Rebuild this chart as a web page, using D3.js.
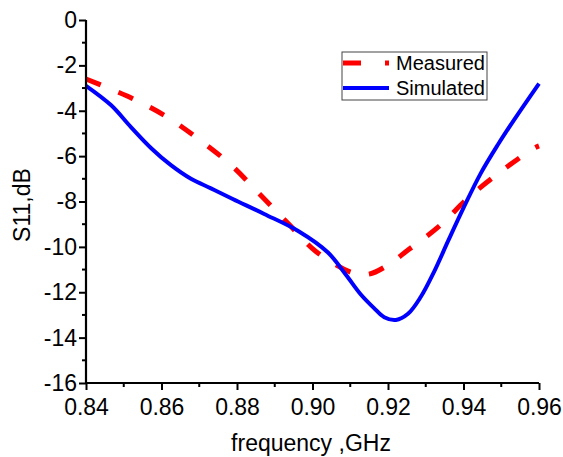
<!DOCTYPE html>
<html>
<head>
<meta charset="utf-8">
<script src="https://cdn.jsdelivr.net/npm/d3@7"></script>
<style>
  body { margin: 0; background: #fff; }
  text { font-family: "Liberation Sans", Arial, sans-serif; fill: #000; }
</style>
</head>
<body>
<svg id="chart" width="563" height="457"></svg>
<script>
  // frequency (GHz) / S11 (dB)
  var simFreq = [0.840, 0.8466, 0.8519, 0.8572, 0.8625, 0.8678, 0.8731, 0.879, 0.8872, 0.8962,
    0.9041, 0.9089, 0.9128, 0.9163, 0.919, 0.9221, 0.9253, 0.9287, 0.9322, 0.9359, 0.9401,
    0.9446, 0.9491, 0.9534, 0.960];
  var simS11 = [-2.9, -3.75, -4.72, -5.64, -6.4, -7.0, -7.42, -7.9, -8.55, -9.3,
    -10.25, -11.24, -12.1, -12.7, -13.1, -13.22, -12.95, -12.2, -11.1, -9.75, -8.25,
    -6.75, -5.5, -4.4, -2.8];

  var measFreq = [0.840, 0.8524, 0.8617, 0.8699, 0.8784, 0.8858, 0.8935, 0.9009, 0.9107, 0.9150,
    0.9200, 0.9253, 0.9335, 0.9415, 0.9505, 0.9587, 0.960];
  var measS11 = [-2.6, -3.47, -4.3, -5.26, -6.39, -7.64, -8.96, -10.2, -11.15, -11.2,
    -10.8, -10.14, -9.1, -7.8, -6.6, -5.65, -5.55];

  var xTicks = [0.84, 0.86, 0.88, 0.90, 0.92, 0.94, 0.96];
  var yTicks = [0, -2, -4, -6, -8, -10, -12, -14, -16];

  (function () {
    var svg = d3.select('#chart'),
      pl = 86,
      pr = 539,
      pt = 20,
      pb = 383,
      fs = 23;

    var x = d3.scaleLinear().domain([0.84, 0.96]).range([pl, pr]),
      y = d3.scaleLinear().domain([-16, 0]).range([pb, pt]);

    function series(fq, vs) {
      return fq.map(function (f, i) { return [f, vs[i]]; });
    }

    var line = d3.line()
      .x(function (d) { return x(d[0]); })
      .y(function (d) { return y(d[1]); })
      .curve(d3.curveCatmullRom.alpha(0.5));

    // curves
    svg.append('path')
      .attr('d', line(series(measFreq, measS11)))
      .attr('fill', 'none')
      .attr('stroke', '#ff0000')
      .attr('stroke-width', 5)
      .attr('stroke-dasharray', '16,19');

    svg.append('path')
      .attr('d', line(series(simFreq, simS11)))
      .attr('fill', 'none')
      .attr('stroke', '#0000ff')
      .attr('stroke-width', 4);

    // minor ticks
    var xMinor = d3.range(0.85, 0.96, 0.02),
      yMinor = d3.range(-15, 0, 2);

    var xAxis = d3.axisBottom(x).tickValues(xTicks).tickSize(7).tickPadding(9)
      .tickFormat(d3.format('.2f'));
    var yAxis = d3.axisLeft(y).tickValues(yTicks).tickSize(7).tickPadding(2)
      .tickFormat(function (d) { return d === 0 ? '0' : '-' + Math.abs(d); });

    var gx = svg.append('g').attr('transform', 'translate(0,' + pb + ')').call(xAxis);
    var gy = svg.append('g').attr('transform', 'translate(' + pl + ',0)').call(yAxis);

    gx.append('g').selectAll('line').data(xMinor).enter().append('line')
      .attr('x1', function (d) { return x(d); }).attr('x2', function (d) { return x(d); })
      .attr('y1', 0).attr('y2', 4).attr('stroke', '#000').attr('stroke-width', 2);
    gy.append('g').selectAll('line').data(yMinor).enter().append('line')
      .attr('y1', function (d) { return y(d); }).attr('y2', function (d) { return y(d); })
      .attr('x1', 0).attr('x2', -4).attr('stroke', '#000').attr('stroke-width', 2);

    [gx, gy].forEach(function (g) {
      g.select('.domain').attr('stroke', '#000').attr('stroke-width', 2.2);
      g.selectAll('.tick line').attr('stroke', '#000').attr('stroke-width', 2);
      g.selectAll('.tick text').attr('font-size', fs)
        .style('font-family', '"Liberation Sans", Arial, sans-serif').attr('fill', '#000');
    });
    gx.select('.domain').attr('d', 'M' + pl + ',0H' + pr);
    gy.select('.domain').attr('d', 'M0,' + pb + 'V' + pt);

    // axis titles
    svg.append('text')
      .attr('x', 311)
      .attr('y', 451)
      .attr('text-anchor', 'middle')
      .attr('font-size', fs)
      .text('frequency ,GHz');

    svg.append('text')
      .attr('transform', 'translate(30,205) rotate(-90)')
      .attr('text-anchor', 'middle')
      .attr('font-size', fs)
      .text('S11,dB');

    // legend
    var legend = svg.append('g');
    legend.append('rect')
      .attr('x', 342).attr('y', 52).attr('width', 145).attr('height', 48)
      .attr('fill', '#fff').attr('stroke', '#444').attr('stroke-width', 1);
    legend.append('line')
      .attr('x1', 343).attr('x2', 389).attr('y1', 63).attr('y2', 63)
      .attr('stroke', '#ff0000').attr('stroke-width', 5).attr('stroke-dasharray', '18,24,4,20');
    legend.append('line')
      .attr('x1', 343).attr('x2', 389).attr('y1', 88).attr('y2', 88)
      .attr('stroke', '#0000ff').attr('stroke-width', 4);
    legend.append('text').attr('x', 396).attr('y', 70).attr('font-size', 20).text('Measured');
    legend.append('text').attr('x', 396).attr('y', 95).attr('font-size', 20).text('Simulated');
  })();
</script>
</body>
</html>
